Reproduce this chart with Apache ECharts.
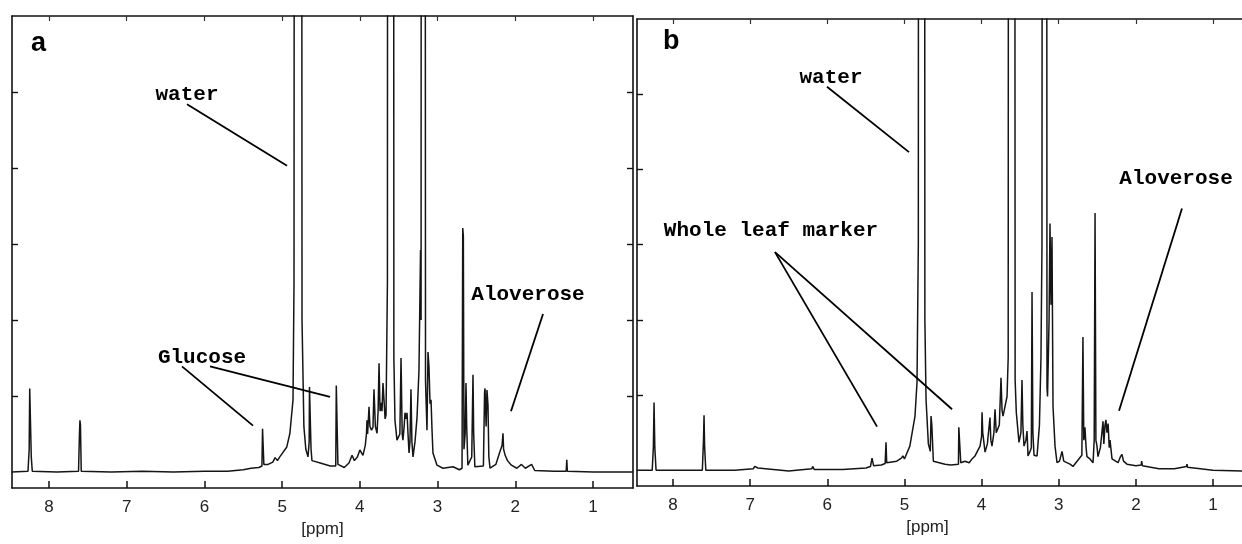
<!DOCTYPE html>
<html>
<head>
<meta charset="utf-8">
<script src="https://cdn.jsdelivr.net/npm/echarts@6/dist/echarts.min.js"></script>
<style>
	html, body { margin: 0; padding: 0; background: #fff; }
	#chart { width: 1242px; height: 544px; }
</style>
</head>
<body>
<div id="chart"></div>
<script>
// 1H NMR spectra, [ppm, intensity] (1 unit = one y tick)
const spectrumA = [
	[8.48, 0], [8.27, 0.01], [8.255, 0.3], [8.248, 1.1], [8.238, 1.08], [8.228, 0.2], [8.215, 0.01],
	[7.9, 0], [7.62, 0.01], [7.608, 0.5], [7.602, 0.68], [7.595, 0.62], [7.585, 0.01],
	[7.2, 0], [6.8, 0.01], [6.4, 0], [6.0, 0.01], [5.7, 0.01], [5.5, 0.03], [5.4, 0.05], [5.3, 0.06], [5.26, 0.08],
	[5.252, 0.57], [5.245, 0.55], [5.235, 0.1], [5.18, 0.1], [5.12, 0.13], [5.09, 0.19], [5.06, 0.15], [5.03, 0.2],
	[4.94, 0.33], [4.9, 0.51], [4.86, 0.95], [4.847, 2.5], [4.834, 30], [4.757, 30], [4.744, 2.0], [4.72, 0.6],
	[4.695, 0.3], [4.667, 0.2], [4.652, 0.4], [4.648, 1.12], [4.637, 1.1], [4.628, 0.3], [4.616, 0.15],
	[4.51, 0.12], [4.38, 0.08], [4.31, 0.08], [4.303, 1.14], [4.29, 1.12], [4.282, 0.1], [4.2, 0.06],
	[4.14, 0.12], [4.1, 0.22], [4.07, 0.15], [4.03, 0.2], [4.0, 0.29], [3.96, 0.22], [3.93, 0.35], [3.915, 0.5],
	[3.908, 0.68], [3.9, 0.5], [3.882, 0.86], [3.87, 0.6], [3.85, 0.55], [3.831, 0.59], [3.818, 1.09], [3.8, 0.6],
	[3.779, 0.51], [3.765, 0.8], [3.753, 1.43], [3.74, 0.8], [3.728, 0.91], [3.715, 0.8], [3.702, 1.17],
	[3.689, 0.95], [3.675, 0.7], [3.663, 0.75], [3.645, 2.5], [3.638, 30], [3.573, 30], [3.562, 1.5],
	[3.548, 0.68], [3.522, 0.42], [3.485, 0.5], [3.47, 1.5], [3.455, 0.5], [3.445, 0.42], [3.43, 0.6],
	[3.419, 0.78], [3.405, 0.7], [3.393, 0.78], [3.38, 0.5], [3.367, 0.25], [3.355, 0.4], [3.342, 1.09],
	[3.33, 0.4], [3.316, 0.2], [3.29, 0.4], [3.264, 0.72], [3.239, 1.34], [3.219, 2.92], [3.212, 2.0],
	[3.206, 30], [3.168, 30], [3.155, 1.2], [3.136, 0.55], [3.123, 1.58], [3.11, 1.38], [3.097, 0.9],
	[3.084, 0.95], [3.071, 0.55], [3.059, 0.25], [3.007, 0.09], [2.93, 0.05], [2.8, 0.07], [2.72, 0.03],
	[2.685, 0.05], [2.676, 3.21], [2.668, 3.1], [2.66, 0.3], [2.645, 0.5], [2.634, 1.17], [2.625, 0.6],
	[2.61, 0.09], [2.56, 0.2], [2.544, 1.28], [2.535, 0.5], [2.52, 0.07], [2.41, 0.08], [2.395, 1.05],
	[2.389, 1.1], [2.375, 0.6], [2.364, 1.08], [2.351, 0.88], [2.34, 0.2], [2.325, 0.05], [2.25, 0.1],
	[2.2, 0.26], [2.17, 0.35], [2.158, 0.51], [2.15, 0.3], [2.13, 0.22], [2.1, 0.15], [2.05, 0.09],
	[1.98, 0.05], [1.92, 0.1], [1.87, 0.05], [1.79, 0.1], [1.75, 0.02], [1.5, 0.01], [1.345, 0.01],
	[1.337, 0.16], [1.33, 0.01], [1.0, 0], [0.75, 0], [0.485, 0]
];

const spectrumB = [
	[8.47, 0], [8.27, 0], [8.255, 0.3], [8.246, 0.9], [8.236, 0.3], [8.22, 0],
	[7.9, 0], [7.62, 0], [7.605, 0.4], [7.598, 0.73], [7.59, 0.3], [7.575, 0],
	[7.2, 0], [6.96, 0.02], [6.94, 0.05], [6.9, 0.03], [6.6, 0], [6.5, -0.01], [6.2, 0.02], [6.19, 0.05],
	[6.17, 0.01], [5.8, 0.01], [5.5, 0.03], [5.44, 0.05], [5.42, 0.16], [5.4, 0.06], [5.3, 0.07], [5.25, 0.09],
	[5.239, 0.37], [5.23, 0.1], [5.1, 0.12], [5.04, 0.16], [5.02, 0.19], [5.0, 0.15], [4.93, 0.32],
	[4.863, 0.72], [4.837, 1.17], [4.82, 3], [4.811, 30], [4.746, 30], [4.735, 2], [4.72, 0.94], [4.69, 0.35],
	[4.665, 0.25], [4.655, 0.72], [4.645, 0.6], [4.625, 0.12], [4.604, 0.11], [4.474, 0.08], [4.4, 0.07],
	[4.3, 0.08], [4.295, 0.57], [4.285, 0.55], [4.27, 0.1], [4.254, 0.08], [4.215, 0.12], [4.16, 0.1],
	[4.124, 0.15], [4.085, 0.19], [4.02, 0.32], [4.0, 0.45], [3.994, 0.77], [3.985, 0.5], [3.955, 0.24],
	[3.925, 0.35], [3.891, 0.7], [3.88, 0.4], [3.865, 0.32], [3.84, 0.5], [3.826, 0.81], [3.81, 0.5],
	[3.8, 0.5], [3.77, 0.6], [3.748, 1.23], [3.735, 0.8], [3.722, 0.72], [3.696, 0.85], [3.67, 0.98],
	[3.655, 1.5], [3.644, 30], [3.579, 30], [3.565, 1.2], [3.55, 0.77], [3.515, 0.37], [3.49, 0.5],
	[3.476, 1.2], [3.465, 0.6], [3.45, 0.32], [3.425, 0.4], [3.411, 0.52], [3.398, 0.19], [3.372, 0.25],
	[3.355, 0.3], [3.346, 2.37], [3.335, 0.5], [3.32, 0.2], [3.281, 0.19], [3.25, 0.6], [3.23, 1.5],
	[3.217, 3], [3.204, 30], [3.165, 30], [3.152, 1.1], [3.145, 0.98], [3.125, 2.0], [3.113, 3.28],
	[3.1, 2.2], [3.087, 3.1], [3.074, 0.85], [3.048, 0.32], [3.022, 0.1], [2.99, 0.12], [2.957, 0.25],
	[2.935, 0.12], [2.918, 0.1], [2.854, 0.08], [2.815, 0.05], [2.724, 0.17], [2.7, 0.2], [2.686, 1.77],
	[2.675, 0.4], [2.66, 0.57], [2.645, 0.3], [2.634, 0.18], [2.595, 0.15], [2.555, 0.1], [2.54, 0.4],
	[2.529, 3.42], [2.518, 0.4], [2.504, 0.32], [2.491, 0.18], [2.46, 0.3], [2.44, 0.5], [2.426, 0.65],
	[2.415, 0.35], [2.4, 0.6], [2.388, 0.67], [2.375, 0.5], [2.36, 0.62], [2.345, 0.3], [2.335, 0.4],
	[2.309, 0.15], [2.231, 0.1], [2.2, 0.18], [2.18, 0.21], [2.16, 0.12], [2.115, 0.08], [2.0, 0.06],
	[1.93, 0.07], [1.925, 0.12], [1.915, 0.06], [1.7, 0.02], [1.5, 0.02], [1.345, 0.05], [1.337, 0.08],
	[1.33, 0.04], [1.0, 0], [0.624, -0.01]
];

const ppmTicks = [1, 2, 3, 4, 5, 6, 7, 8];
const intensityTicks = [1, 2, 3, 4, 5];

// annotation texts and leader lines, in [ppm, intensity]
const labelsA = [
	{ text: "water", at: [6.224, 4.96] },
	{ text: "Glucose", at: [6.031, 1.51] },
	{ text: "Aloverose", at: [1.836, 2.33] }
];
const leadersA = [
	[[6.224, 4.84], [4.937, 4.03]],
	[[6.289, 1.39], [5.375, 0.61]],
	[[5.928, 1.39], [4.384, 0.99]],
	[[1.643, 2.08], [2.055, 0.8]]
];
const labelsB = [
	{ text: "water", at: [5.952, 5.22] },
	{ text: "Whole leaf marker", at: [6.73, 3.19] },
	{ text: "Aloverose", at: [1.479, 3.88] }
];
const leadersB = [
	[[6.004, 5.1], [4.941, 4.23]],
	[[6.678, 2.9], [5.355, 0.58]],
	[[6.678, 2.9], [4.383, 0.81]],
	[[1.402, 3.48], [2.218, 0.79]]
];

const monoFont = "'Courier New', 'Liberation Mono', monospace";
const sansFont = "Arial, 'Liberation Sans', sans-serif";

const bottomAxis = (grid, min, max, nameOffset) => ({
	type: "value",
	gridIndex: grid,
	position: "bottom",
	inverse: true,
	min: min,
	max: max,
	name: "[ppm]",
	nameLocation: "middle",
	nameGap: 29,
	nameTextStyle: { color: "#222", fontSize: 17, fontFamily: sansFont, padding: [0, nameOffset, 0, 0] },
	axisLine: { show: true, onZero: false, lineStyle: { color: "#111", width: 1.6 } },
	axisTick: { show: true, inside: true, length: 7, customValues: ppmTicks, lineStyle: { color: "#111", width: 1.5 } },
	axisLabel: { show: true, customValues: ppmTicks, margin: 11, color: "#222", fontSize: 17, fontFamily: sansFont },
	splitLine: { show: false }
});

const topAxis = (grid, min, max) => ({
	type: "value",
	gridIndex: grid,
	position: "top",
	inverse: true,
	min: min,
	max: max,
	axisLine: { show: true, onZero: false, lineStyle: { color: "#111", width: 1.6 } },
	axisTick: { show: true, inside: true, length: 5, customValues: ppmTicks, lineStyle: { color: "#333", width: 1.2 } },
	axisLabel: { show: false },
	splitLine: { show: false }
});

const sideAxis = (grid, position, show) => ({
	type: "value",
	gridIndex: grid,
	position: position,
	min: -0.21,
	max: 6,
	axisLine: { show: show, onZero: false, lineStyle: { color: "#111", width: 1.6 } },
	axisTick: { show: show, inside: true, length: 6, customValues: intensityTicks, lineStyle: { color: "#111", width: 1.4 } },
	axisLabel: { show: false },
	splitLine: { show: false }
});

const spectrumSeries = (axis, data, labels, leaders) => ({
	type: "line",
	xAxisIndex: axis,
	yAxisIndex: axis,
	data: data,
	showSymbol: false,
	symbol: "none",
	clip: true,
	silent: true,
	lineStyle: { color: "#151515", width: 1.5 },
	markLine: {
		silent: true,
		symbol: ["none", "none"],
		label: { show: false },
		lineStyle: { color: "#000", width: 1.8, type: "solid" },
		data: leaders.map(l => [{ coord: l[0] }, { coord: l[1] }])
	},
	markPoint: {
		silent: true,
		symbol: "circle",
		symbolSize: 1,
		itemStyle: { color: "rgba(0,0,0,0)" },
		label: {
			show: true,
			position: "inside",
			color: "#000",
			fontSize: 21,
			fontWeight: "bold",
			fontFamily: monoFont,
			formatter: p => p.name
		},
		data: labels.map(l => ({ name: l.text, coord: l.at }))
	}
});

const chart = echarts.init(document.getElementById("chart"), null, { renderer: "canvas" });
const option = {
	animation: false,
	backgroundColor: "#fff",
	grid: [
		{ left: 12, top: 16, width: 621, height: 472 },
		{ left: 637, top: 19, right: 0, height: 467 }
	],
	xAxis: [
		bottomAxis(0, 0.485, 8.476, 0),
		topAxis(0, 0.485, 8.476),
		bottomAxis(1, 0.624, 8.467, 24),
		topAxis(1, 0.624, 8.467)
	],
	yAxis: [
		sideAxis(0, "left", true),
		sideAxis(0, "right", true),
		sideAxis(1, "left", true),
		sideAxis(1, "right", false)
	],
	graphic: [
		{ type: "text", left: 31, top: 30, style: { text: "a", fill: "#000", font: "bold 27px " + sansFont } },
		{ type: "text", left: 663, top: 28, style: { text: "b", fill: "#000", font: "bold 27px " + sansFont } }
	],
	series: [
		spectrumSeries(0, spectrumA, labelsA, leadersA),
		spectrumSeries(2, spectrumB, labelsB, leadersB)
	]
};
chart.setOption(option);
</script>
</body>
</html>
